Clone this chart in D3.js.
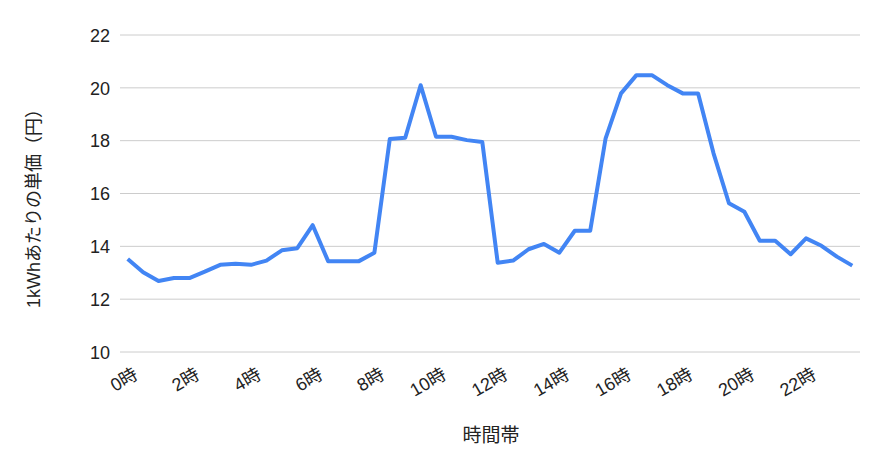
<!DOCTYPE html>
<html>
<head>
<meta charset="utf-8">
<script src="https://cdn.jsdelivr.net/npm/d3@7"></script>
<style>
body { margin: 0; background: #fff; }
svg { display: block; }
text { font-family: "Liberation Sans", Arial, "Noto Sans CJK JP", sans-serif; fill: #222; }
</style>
</head>
<body>
<svg id="chart" width="884" height="471"></svg>
<script>
const hours = d3.range(48).map(i => i / 2);
const prices = [13.52, 13.02, 12.69, 12.8, 12.8, 13.04, 13.3, 13.34, 13.3, 13.46, 13.85, 13.93,
  14.8, 13.44, 13.44, 13.44, 13.76, 18.06, 18.11, 20.1, 18.15, 18.15, 18.02, 17.95,
  13.38, 13.46, 13.89, 14.09, 13.76, 14.59, 14.59, 18.09, 19.79, 20.48, 20.48, 20.1,
  19.79, 19.79, 17.52, 15.63, 15.31, 14.21, 14.21, 13.70, 14.30, 14.02, 13.61, 13.27];
const yTicks = [10, 12, 14, 16, 18, 20, 22];
const xTickHours = [0, 2, 4, 6, 8, 10, 12, 14, 16, 18, 20, 22];
const yTitle = "1kWhあたりの単価（円）";
const xTitle = "時間帯";

(function () {
const svg = d3.select("#chart");
const mLeft = 120, mRight = 860, mTop = 35, mBottom = 352;

const x = d3.scalePoint().domain(hours).range([mLeft, mRight]).padding(0.5);
const y = d3.scaleLinear().domain([10, 22]).range([mBottom, mTop]);

// gridlines
svg.append("g").selectAll("line").data(yTicks).join("line")
  .attr("x1", mLeft).attr("x2", mRight)
  .attr("y1", d => y(d)).attr("y2", d => y(d))
  .attr("stroke", "#cccccc").attr("stroke-width", 1);

// y axis labels
const yAxis = d3.axisLeft(y).tickValues(yTicks).tickSize(0).tickPadding(0);
const gy = svg.append("g").attr("transform", `translate(110,0)`).call(yAxis);
gy.select(".domain").remove();
gy.selectAll("text").style("font-size", "18px").attr("fill", "#222").attr("dy", "0.35em");

// x axis labels
const xAxis = d3.axisBottom(x).tickValues(xTickHours).tickSize(0).tickFormat(d => d + "時");
const gx = svg.append("g").attr("transform", `translate(0,${mBottom})`).call(xAxis);
gx.select(".domain").remove();
gx.selectAll("text")
  .style("font-size", "18px").attr("fill", "#222")
  .attr("text-anchor", "end")
  .attr("dy", null).attr("y", null)
  .attr("transform", "translate(11,26) rotate(-30)");

// line
const line = d3.line().x((d, i) => x(hours[i])).y(d => y(d));
svg.append("path").datum(prices)
  .attr("d", line)
  .attr("fill", "none")
  .attr("stroke", "#4285F4")
  .attr("stroke-width", 4)
  .attr("stroke-linejoin", "round");

// titles
svg.append("text")
  .attr("transform", "translate(40,204) rotate(-90)")
  .attr("text-anchor", "middle")
  .style("font-size", "18px")
  .text(yTitle);

svg.append("text")
  .attr("x", 491).attr("y", 442)
  .attr("text-anchor", "middle")
  .style("font-size", "19px")
  .text(xTitle);
})();
</script>
</body>
</html>
